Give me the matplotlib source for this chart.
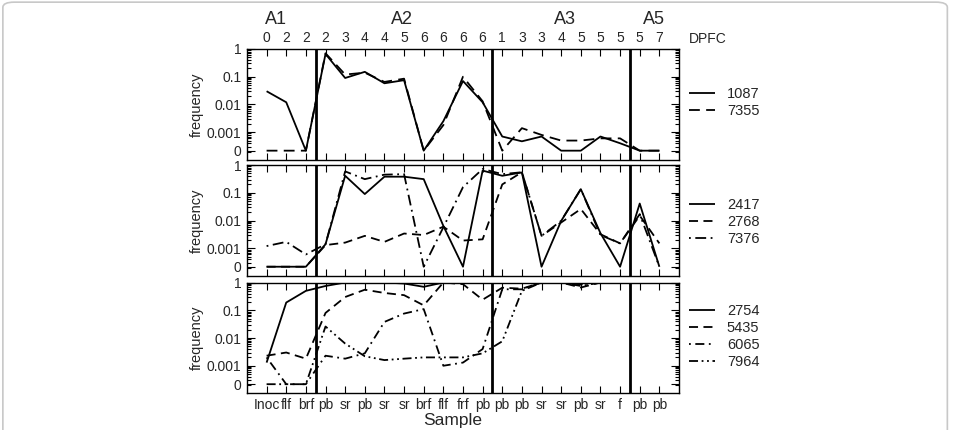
import matplotlib
matplotlib.use("Agg")
import matplotlib.pyplot as plt
import numpy as np
from matplotlib.patches import FancyBboxPatch
from matplotlib.ticker import FixedLocator, LogLocator, NullFormatter

plt.rcParams["font.family"] = ["Liberation Sans", "DejaVu Sans"]

# sample labels along the bottom and days post first challenge (DPFC) along the top
samples = ["Inoc", "flf", "brf", "pb", "sr", "pb", "sr", "sr", "brf", "flf", "frf",
           "pb", "pb", "pb", "sr", "sr", "pb", "sr", "f", "pb", "pb"]
dpfc = ["0", "2", "2", "2", "3", "4", "4", "5", "6", "6", "6",
        "6", "1", "3", "3", "4", "5", "5", "5", "5", "7"]
groups = ["A1", "A2", "A3", "A5"]
group_breaks = [2.5, 11.5, 18.5]

# frequencies (0 = not detected)
top_series = {
    "1087": [0.03, 0.012, 0, 0.66, 0.09, 0.15, 0.058, 0.075, 0, 0.0025, 0.07,
             0.012, 0.0007, 0.00047, 0.0007, 0, 0, 0.0007, 0.0004, 0, 0],
    "7355": [0, 0, 0, 0.7, 0.12, 0.14, 0.065, 0.085, 0, 0.0018, 0.1,
             0.013, 0, 0.0014, 0.0008, 0.0005, 0.0005, 0.0006, 0.0006, 0, 0],
}
mid_series = {
    "2417": [0, 0, 0, 0.0014, 0.41, 0.09, 0.38, 0.38, 0.31, 0.0064, 0,
             0.63, 0.41, 0.54, 0, 0.0097, 0.135, 0.0035, 0, 0.041, 0],
    "2768": [0, 0, 0, 0.0013, 0.0016, 0.0028, 0.0017, 0.0034, 0.003, 0.006, 0.0019,
             0.0021, 0.2, 0.55, 0.0028, 0.0085, 0.026, 0.0032, 0.0015, 0.015, 0.0015],
    "7376": [0.0012, 0.0017, 0.0006, 0.0014, 0.59, 0.31, 0.45, 0.47, 0, 0.0057, 0.16,
             0.72, 0.47, 0.55, 0.0028, 0.0098, 0.135, 0.003, 0.0015, 0.017, 0],
}
bot_series = {
    "2754": [0.0013, 0.19, 0.5, 0.75, 1, 1, 1, 0.92, 0.7, 1, 1,
             1, 1, 1, 1, 1, 1, 1, 1, 1, 1],
    "5435": [0.0023, 0.003, 0.0018, 0.08, 0.3, 0.55, 0.42, 0.35, 0.15, 1, 0.87,
             0.24, 0.65, 0.6, 1, 1, 0.66, 1, 1, 1, 1],
    "6065": [0.002, 0, 0, 0.0023, 0.0018, 0.0028, 0.038, 0.076, 0.11, 0.001, 0.0013,
             0.004, 0.57, 0.57, 1, 1, 0.75, 1, 1, 1, 1],
    "7964": [0, 0, 0, 0.026, 0.0063, 0.0022, 0.0016, 0.0018, 0.002, 0.002, 0.002,
             0.0028, 0.0076, 0.5, 1, 1, 0.85, 1, 1, 1, 1],
}

ZERO = 10 ** -3.665  # where "0" sits on the log axis
dash_sets = {
    "top": [(0, ()), (0, (6, 3.5))],
    "mid": [(0, ()), (0, (5, 3)), (0, (1, 2.5, 6, 2.5))],
    "bot": [(0, ()), (0, (5, 3)), (0, (1, 2.5, 5, 2.5)), (0, (5, 2, 1, 2, 1, 2))],
}

fig = plt.figure(figsize=(9.55, 4.3), dpi=100)
fig.patches.append(FancyBboxPatch((0.003, -0.05), 0.989, 1.045,
                                  boxstyle="round,pad=0,rounding_size=0.012",
                                  transform=fig.transFigure, fill=False,
                                  edgecolor="#c8c8c8", linewidth=1.2))

left, width, h = 0.2586, 0.4524, 0.2581
bottoms = [0.628, 0.3581, 0.0849]
legend_y = [0.52, 0.486, 0.513]
x = np.arange(len(samples))
text_col = "#262626"

for k, (series, key) in enumerate([(top_series, "top"), (mid_series, "mid"), (bot_series, "bot")]):
    ax = fig.add_axes([left, bottoms[k], width, h])
    for (name, vals), ls in zip(series.items(), dash_sets[key]):
        v = np.array(vals, dtype=float)
        v = np.where(v == 0, ZERO, v)
        ax.plot(x, v, color="black", lw=1.3, linestyle=ls, label=name)
    for b in group_breaks:
        ax.axvline(b, color="black", lw=2.0, zorder=1)

    ax.set_yscale("log")
    ax.set_ylim(1e-4, 1)
    ax.set_xlim(-1, 21)
    ax.yaxis.set_major_locator(FixedLocator([ZERO, 1e-3, 1e-2, 1e-1, 1]))
    ax.set_yticklabels(["0", "0.001", "0.01", "0.1", "1"])
    ax.yaxis.set_minor_locator(LogLocator(base=10, subs=np.arange(2, 10), numticks=20))
    ax.yaxis.set_minor_formatter(NullFormatter())
    ax.set_xticks(x)
    ax.tick_params(axis="both", which="both", direction="in", top=True, right=True,
                   labelsize=10, colors="black", labelcolor=text_col, width=0.8)
    ax.tick_params(axis="y", which="major", length=6, pad=4)
    ax.tick_params(axis="y", which="minor", length=3)
    ax.tick_params(axis="x", which="major", length=5, pad=3)
    for sp in ax.spines.values():
        sp.set_linewidth(1.0)
    ax.set_ylabel("frequency", fontsize=10.5, color=text_col, labelpad=2)

    if k == 0:
        ax.tick_params(axis="x", labelbottom=False, labeltop=True, pad=3)
        ax.set_xticklabels(dpfc)
        ax.text(21.5, 1.03, "DPFC", transform=ax.get_xaxis_transform(),
                ha="left", va="bottom", fontsize=10, color=text_col)
        for g, gx in zip(groups, [0.5, 6.9, 15.2, 19.7]):
            ax.text(gx, 1.19, g, transform=ax.get_xaxis_transform(),
                    ha="center", va="bottom", fontsize=13, color=text_col)
    elif k == 2:
        ax.set_xticklabels(samples)
        ax.set_xlabel("Sample", fontsize=12.5, color=text_col, labelpad=2)
        ax.xaxis.set_label_coords((9.5 + 1) / 22, -0.175)
    else:
        ax.tick_params(axis="x", labelbottom=False)

    leg = ax.legend(loc="center left", bbox_to_anchor=(1.023, legend_y[k]),
                    frameon=False, fontsize=10.5, handlelength=1.8,
                    handletextpad=0.8, labelspacing=0.2, borderpad=0,
                    borderaxespad=0)
    for t in leg.get_texts():
        t.set_color(text_col)

fig.savefig("out.png", dpi=100)
